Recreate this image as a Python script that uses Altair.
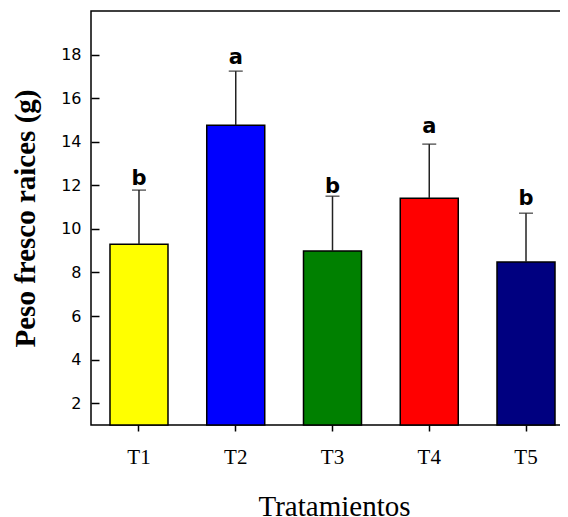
import altair as alt
import pandas as pd

tratamientos = ["T1", "T2", "T3", "T4", "T5"]
medias = [9.30, 14.76, 8.98, 11.41, 8.48]
superior = [11.78, 17.24, 11.50, 13.89, 10.72]
letras = ["b", "a", "b", "a", "b"]
letra_y = [12.01, 17.57, 11.65, 14.41, 11.10]
colores = ["#FFFF00", "#0000FF", "#008000", "#FF0000", "#000080"]
ticks_y = [2, 4, 6, 8, 10, 12, 14, 16, 18]

df = pd.DataFrame({
    "trat": tratamientos,
    "media": medias,
    "sup": superior,
    "letra": letras,
    "ly": letra_y,
})

W, H = 483, 414

xscale = alt.Scale(domain=tratamientos, paddingInner=0.4005, paddingOuter=0.1963)
yscale = alt.Scale(domain=[1, 20], nice=False, zero=False)

x_enc = alt.X(
    "trat:N", scale=xscale, sort=tratamientos,
    axis=alt.Axis(
        title="Tratamientos", labelAngle=0, labelFont="Liberation Serif", labelFontSize=21,
        labelColor="black", labelBaseline="alphabetic", labelPadding=32,
        tickSize=6, tickWidth=1.5, tickColor="black", domain=False, grid=False,
        titleFont="Liberation Serif", titleFontSize=29, titleFontWeight="normal",
        titleColor="black", titleBaseline="alphabetic", titleY=90, titleX=243,
    ),
)

left_axis = alt.Axis(
    orient="left", offset=-8, domain=False, tickSize=8, tickWidth=1.5, tickColor="black",
    values=ticks_y, labelFont="DejaVu Sans", labelFontSize=16, labelColor="black",
    labelPadding=10, grid=False,
    title="Peso fresco raices (g)", titleFont="Liberation Serif", titleFontSize=29,
    titleFontWeight="bold", titleColor="black", titleBaseline="alphabetic",
    titleAngle=270, titleX=-65, titleY=207,
)

base = alt.Chart(df)

bars = base.mark_bar(stroke="black", strokeWidth=1.5).encode(
    x=x_enc,
    y=alt.Y("media:Q", scale=yscale, axis=left_axis),
    y2=alt.datum(1),
    color=alt.Color("trat:N", scale=alt.Scale(domain=tratamientos, range=colores), legend=None),
)

err = base.mark_rule(color="#222222", strokeWidth=1.5).encode(
    x=x_enc,
    y=alt.Y("media:Q", scale=yscale),
    y2="sup:Q",
)

caps = base.mark_tick(color="#222222", size=14, thickness=1.5, orient="horizontal").encode(
    x=x_enc,
    y=alt.Y("sup:Q", scale=yscale),
)

txt = base.mark_text(font="DejaVu Sans", fontWeight="bold", fontSize=21,
                     baseline="alphabetic", color="black").encode(
    x=x_enc,
    y=alt.Y("ly:Q", scale=yscale),
    text="letra:N",
)

chart = alt.layer(bars, err, caps, txt).properties(
    width=W, height=H,
    autosize=alt.AutoSizeParams(type="none"),
    padding={"left": 83, "top": 3, "right": -14, "bottom": 92},
).configure(background="white").configure_view(stroke="black", strokeWidth=1.5)

chart.save("out.html", embed_options={"renderer": "svg", "actions": False})
